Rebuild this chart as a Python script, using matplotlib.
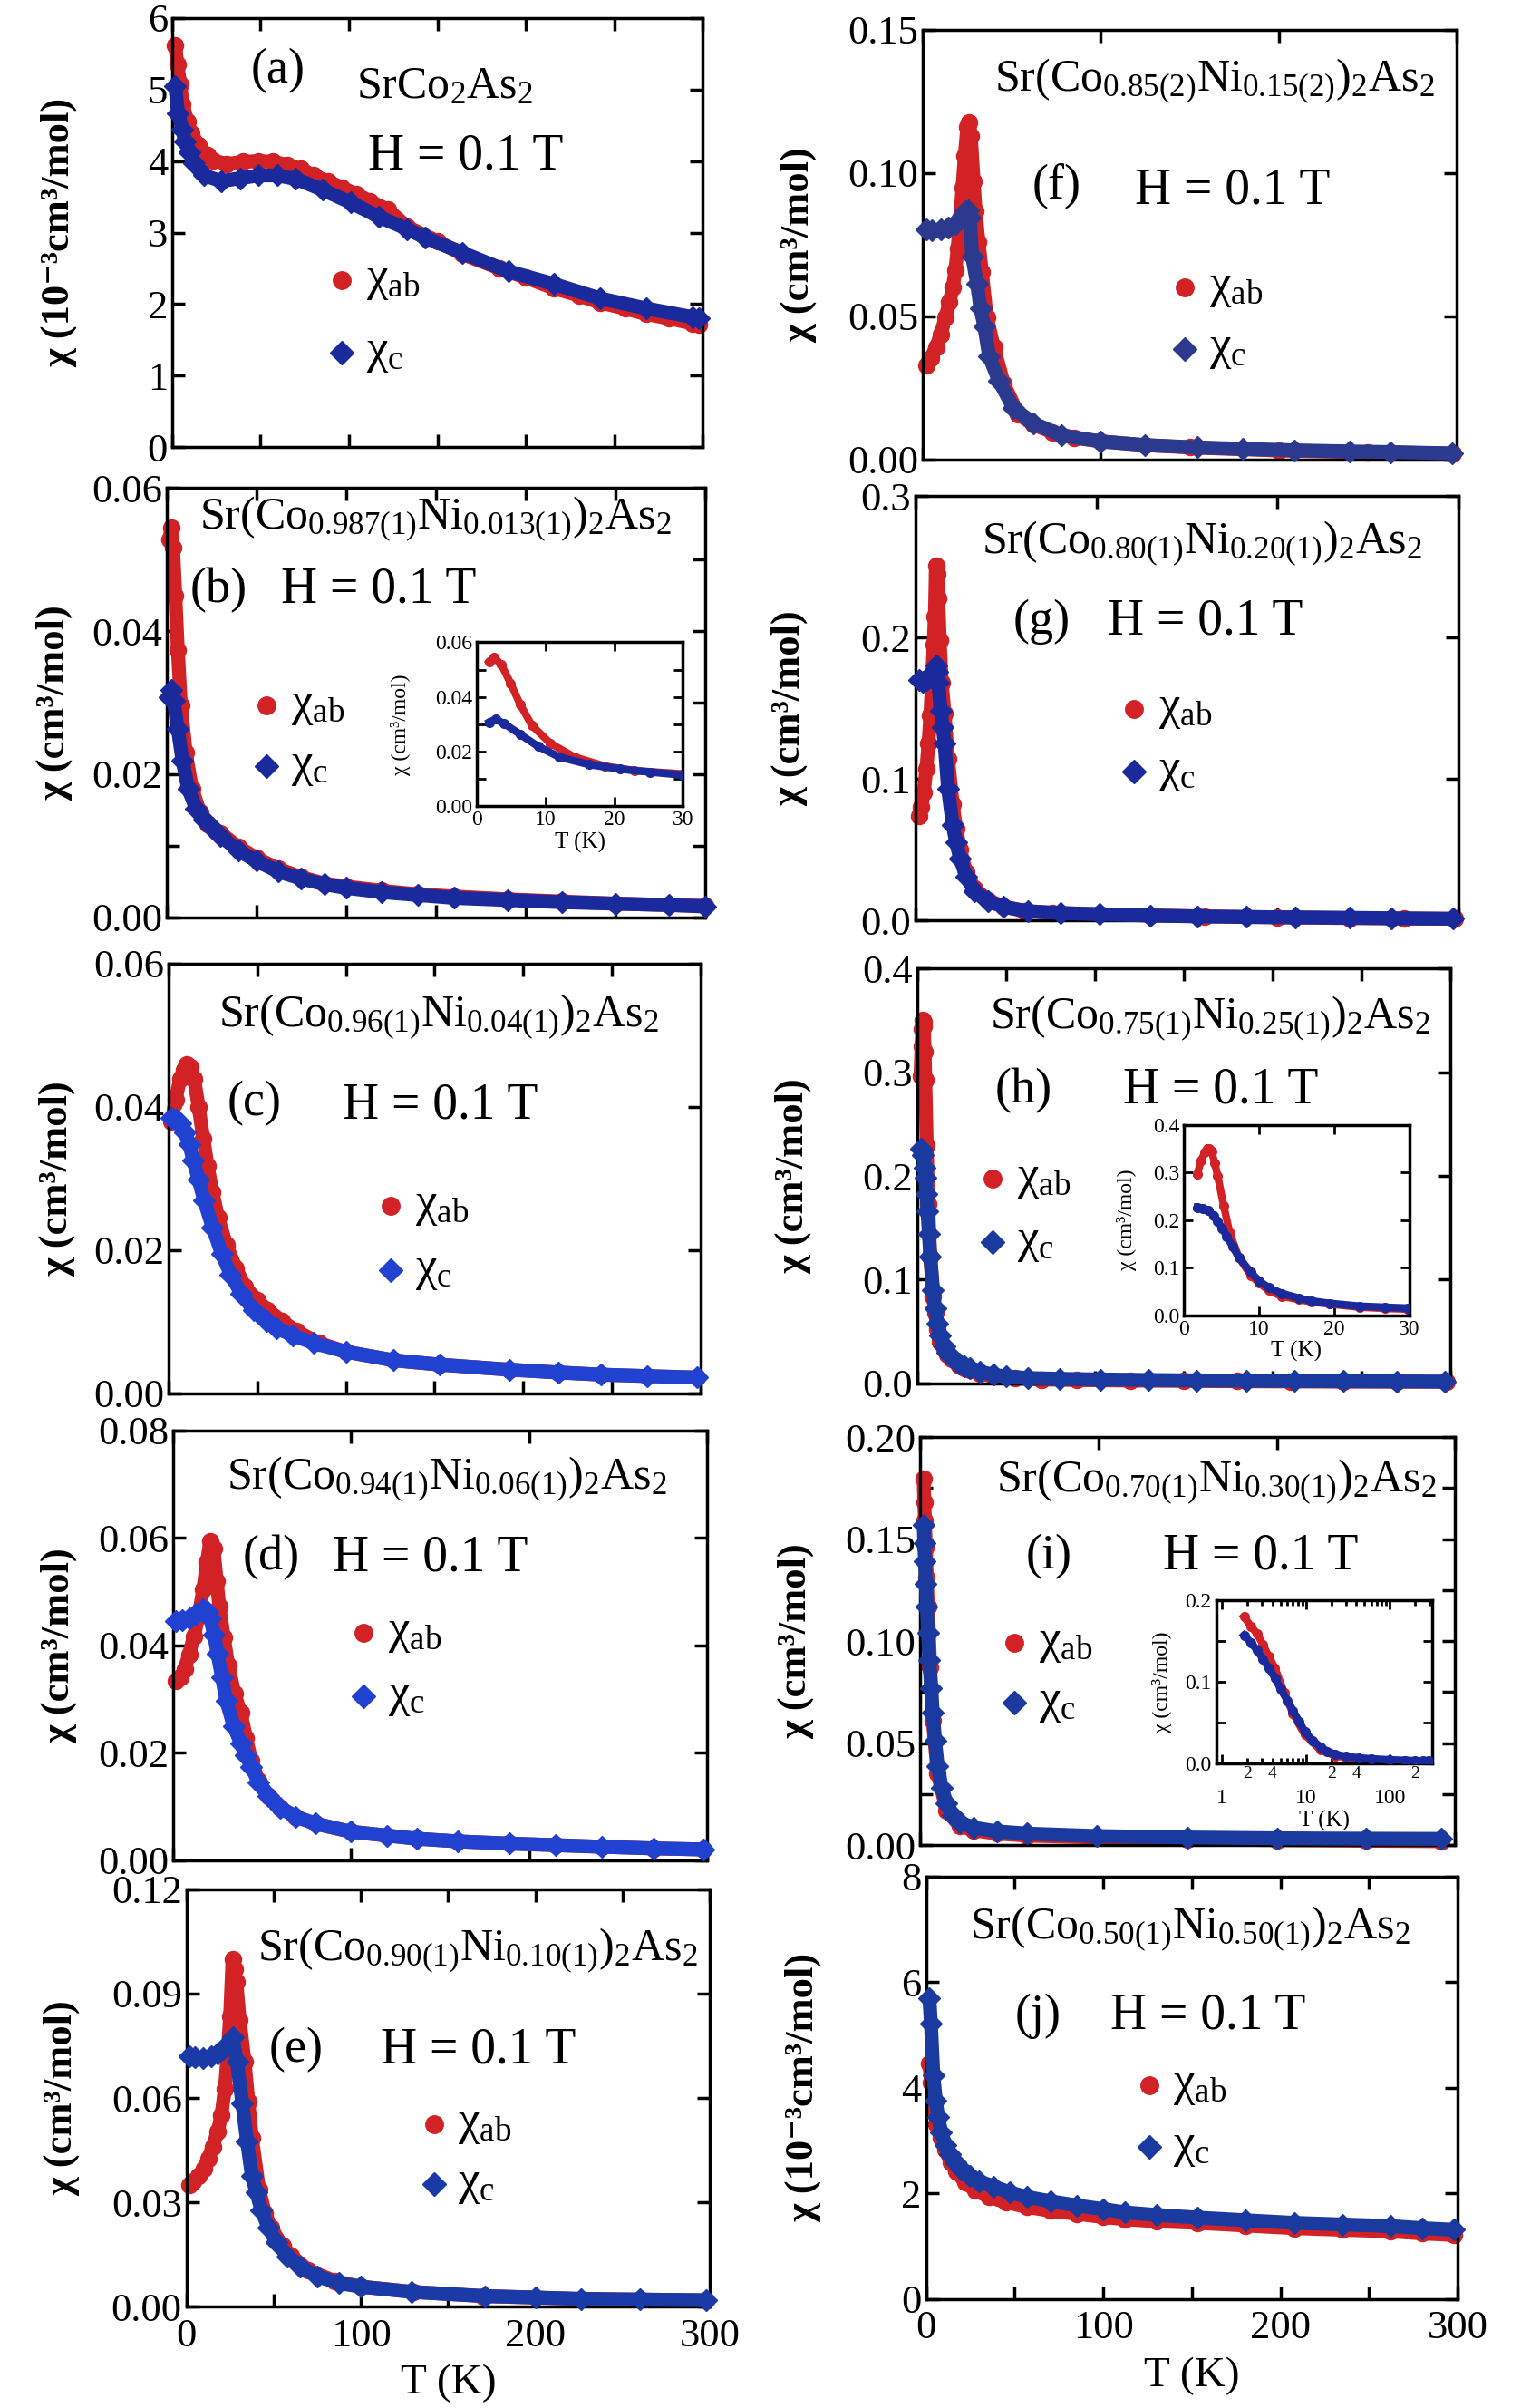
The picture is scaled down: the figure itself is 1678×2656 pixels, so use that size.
import numpy as np
import matplotlib
matplotlib.use('Agg')
import matplotlib.pyplot as plt
from matplotlib.ticker import MultipleLocator, FormatStrFormatter, FuncFormatter, FixedLocator

plt.rcParams['font.family'] = ['Liberation Serif', 'DejaVu Serif']
plt.rcParams['mathtext.fontset'] = 'custom'
plt.rcParams['mathtext.rm'] = 'Liberation Serif'
plt.rcParams['mathtext.it'] = 'Liberation Serif:italic'
plt.rcParams['mathtext.bf'] = 'Liberation Serif:bold'

RED = '#d32226'
BLUE = '#1a2a9c'
BLUE2 = '#2142d0'

# ---------------------------------------------------------------
# data  (T in K, chi in cm^3/mol; (a),(j) in 1e-3 cm^3/mol)
# (a) SrCo2As2
T_a_ab = [1.8, 3, 4.7, 6, 8.6, 11, 15, 20, 23, 31, 40, 49, 57, 65, 73, 80, 88, 96, 104, 112,
          122, 133, 150, 164, 185, 200, 216, 230, 242, 256, 268, 281, 294, 298]
chi_a_ab = [5.62, 5.35, 5.07, 4.8, 4.56, 4.39, 4.22, 4.08, 4.01, 3.96, 3.99, 4.0, 3.99, 3.95, 3.89, 3.80,
            3.72, 3.63, 3.54, 3.44, 3.32, 3.08, 2.88, 2.70, 2.50, 2.37, 2.22, 2.12, 2.02, 1.94, 1.86,
            1.80, 1.73, 1.72]
T_a_c = [1.8, 3.4, 6, 7.3, 10, 12.5, 17.8, 28, 38.6, 49, 59.5, 70, 85, 101, 117, 133, 143, 164, 190,
         216, 242, 268, 294, 298]
chi_a_c = [5.05, 4.67, 4.44, 4.27, 4.12, 3.97, 3.80, 3.72, 3.76, 3.80, 3.80, 3.75, 3.60, 3.42, 3.22,
           3.05, 2.93, 2.72, 2.46, 2.28, 2.08, 1.94, 1.82, 1.80]

# (b) x = 0.013
T_b_ab = [1.8, 2.5, 3.6, 4.9, 6.3, 8, 10.7, 14.2, 18.6, 23, 30, 40, 50, 62, 75, 88, 100, 120, 140,
          160, 190, 220, 250, 280, 300]
chi_b_ab = [0.0528, 0.0545, 0.0517, 0.045, 0.0373, 0.0296, 0.023, 0.018, 0.0147, 0.013, 0.0118,
            0.0098, 0.0083, 0.0068, 0.0056, 0.0047, 0.0043, 0.0037, 0.0032, 0.0029, 0.0025, 0.0022,
            0.0019, 0.0017, 0.0016]
T_b_c = [1.8, 2.7, 4, 6.3, 8.9, 12, 16.4, 20.8, 25.2, 30, 40, 50, 62, 75, 88, 100, 120, 140, 160,
         190, 220, 250, 280, 300]
chi_b_c = [0.0307, 0.0318, 0.0302, 0.0263, 0.0219, 0.018, 0.0152, 0.0136, 0.0125, 0.0114, 0.0093,
           0.0079, 0.0064, 0.0054, 0.0046, 0.0041, 0.0035, 0.0031, 0.0027, 0.0024, 0.0021, 0.0019,
           0.0017, 0.0015]

# (c) x = 0.04
T_c_ab = [1.8, 4, 6.5, 8.5, 10.4, 12.5, 14.4, 17, 19.6, 22, 24.8, 28, 32.6, 38, 43, 50, 56, 64, 72,
          85, 100, 127, 153, 192, 220, 244, 270, 298]
chi_c_ab = [0.038, 0.041, 0.0439, 0.0452, 0.0459, 0.0455, 0.0439, 0.040, 0.0356, 0.0318, 0.0281,
            0.0245, 0.0207, 0.0175, 0.0149, 0.013, 0.0116, 0.0101, 0.0087, 0.0070, 0.0058, 0.0046,
            0.0040, 0.0033, 0.0029, 0.0026, 0.0024, 0.0022]
T_c_c = [1.8, 4, 6.5, 9, 11.7, 14, 17, 20, 24.8, 30, 35, 41, 48, 55, 61, 70, 82, 100, 127, 153, 192,
         220, 244, 270, 298]
chi_c_c = [0.0385, 0.0382, 0.0377, 0.0365, 0.0348, 0.0325, 0.0298, 0.027, 0.0232, 0.0195, 0.0166,
           0.0139, 0.0116, 0.0101, 0.0091, 0.0081, 0.007, 0.0058, 0.0046, 0.004, 0.0033, 0.0029,
           0.0026, 0.0024, 0.0022]

# (d) x = 0.06
T_d_ab = [1.8, 4, 6.5, 9, 11.7, 14.5, 17, 19, 20.9, 22.7, 24.5, 26, 28.5, 31, 34.5, 38, 41, 44, 48,
          53.5, 60, 69, 80, 100, 120, 137, 160, 189, 215, 241, 270, 298]
chi_d_ab = [0.0334, 0.0340, 0.0356, 0.0383, 0.0417, 0.0458, 0.0505, 0.0555, 0.0594, 0.0580, 0.052,
            0.0472, 0.0415, 0.0362, 0.031, 0.0274, 0.0228, 0.0185, 0.0148, 0.0119, 0.0098, 0.0081,
            0.0068, 0.0053, 0.0046, 0.0040, 0.0035, 0.0031, 0.0028, 0.0025, 0.0022, 0.0020]
T_d_c = [1.8, 5, 9, 13, 17, 19.5, 20.9, 23, 25, 27.5, 30, 34, 38, 41, 44, 48, 53.5, 60, 69, 80, 100,
         120, 137, 160, 189, 215, 241, 270, 298]
chi_d_c = [0.0445, 0.0447, 0.045, 0.0458, 0.0467, 0.0462, 0.045, 0.042, 0.0384, 0.034, 0.0296,
           0.025, 0.0218, 0.0195, 0.0174, 0.0145, 0.0119, 0.0098, 0.0081, 0.0068, 0.0053, 0.0046,
           0.0040, 0.0035, 0.0031, 0.0028, 0.0025, 0.0022, 0.0020]

# (e) x = 0.10
T_e_ab = [1.8, 4, 6.9, 10, 12.5, 15, 18, 20, 22, 23.5, 25, 26.4, 27.5, 28.6, 30.5, 33.3, 35.5, 37.5,
          41.7, 45, 48.6, 55, 60, 70, 85, 100, 130, 170, 226, 260, 298]
chi_e_ab = [0.0351, 0.036, 0.0376, 0.0398, 0.0426, 0.046, 0.0505, 0.055, 0.0625, 0.072, 0.0834,
            0.0998, 0.097, 0.0933, 0.0824, 0.0704, 0.059, 0.0486, 0.0336, 0.027, 0.0227, 0.0175,
            0.0147, 0.0105, 0.0074, 0.0058, 0.0043, 0.0031, 0.0023, 0.0021, 0.0019]
T_e_c = [1.8, 5, 9.7, 14, 18, 21, 23.6, 26.4, 29, 32, 34.7, 37.5, 40, 43, 47, 51.4, 58, 65, 75, 87.5,
         100, 129, 171, 200, 226, 260, 298]
chi_e_c = [0.0719, 0.0716, 0.0714, 0.072, 0.0729, 0.074, 0.0754, 0.0774, 0.0704, 0.0585, 0.0476,
           0.0376, 0.033, 0.0277, 0.0228, 0.0187, 0.0145, 0.0117, 0.0088, 0.0068, 0.0058, 0.0043,
           0.0031, 0.0027, 0.0023, 0.0021, 0.0019]

# (f) x = 0.15
T_f_ab = [1.9, 4.5, 7.4, 10, 12.8, 15, 16.9, 18.3, 19.6, 21, 22.3, 23.6, 25, 26, 27, 28.6, 29.7, 31.3,
          33.2, 36, 40, 45.5, 53.7, 62, 72.8, 85, 100, 125, 150, 200, 250, 298]
chi_f_ab = [0.0327, 0.0355, 0.039, 0.0437, 0.0496, 0.055, 0.0601, 0.066, 0.0738, 0.084, 0.095,
            0.106, 0.116, 0.1175, 0.1129, 0.097, 0.0865, 0.076, 0.0654, 0.0496, 0.039, 0.0264,
            0.0158, 0.0122, 0.0095, 0.0076, 0.0063, 0.005, 0.0042, 0.0031, 0.0025, 0.0021]
T_f_c = [1.9, 5, 10, 14, 18.3, 21, 23.7, 25.5, 26.4, 27.8, 30.5, 32.4, 34.6, 37.3, 42.8, 51, 62, 78,
         100, 125, 154.5, 180, 209, 240, 263, 297.5]
chi_f_c = [0.0802, 0.0801, 0.0802, 0.081, 0.0823, 0.0838, 0.0865, 0.087, 0.0844, 0.0707, 0.0612,
           0.0527, 0.0464, 0.0359, 0.0274, 0.0179, 0.0127, 0.0084, 0.0063, 0.005, 0.0042, 0.0037,
           0.0032, 0.0028, 0.0026, 0.0021]

# (g) x = 0.20
T_g_ab = [1.9, 3.2, 4.6, 6, 7.2, 8.2, 9.1, 10, 10.7, 11.3, 12, 12.6, 13.4, 14.5, 16.1, 18, 20.6,
          22.5, 24.7, 28, 32.7, 40, 48.8, 60, 75.6, 102, 130, 160, 200, 240, 270, 298]
chi_g_ab = [0.0737, 0.08, 0.0908, 0.107, 0.125, 0.145, 0.168, 0.195, 0.215, 0.251, 0.245, 0.2276,
            0.198, 0.168, 0.146, 0.114, 0.082, 0.065, 0.050, 0.034, 0.0224, 0.0145, 0.0096, 0.0068,
            0.0053, 0.0043, 0.0035, 0.0028, 0.0021, 0.0016, 0.0013, 0.0011]
T_g_c = [1.8, 4, 5.9, 8.6, 10, 11.3, 12, 12.6, 13.9, 15, 16.1, 18, 20.6, 22.5, 24.7, 28, 32.7, 40,
         48.8, 62, 80, 102, 130, 156, 183, 210, 240, 263, 297]
chi_g_c = [0.170, 0.169, 0.170, 0.172, 0.176, 0.1806, 0.176, 0.168, 0.1485, 0.137, 0.125, 0.093,
           0.0673, 0.055, 0.0438, 0.031, 0.0203, 0.0135, 0.0096, 0.0064, 0.0052, 0.0043, 0.0034,
           0.0028, 0.0024, 0.0021, 0.0018, 0.0015, 0.0011]

# (h) x = 0.25
T_h_ab = [1.8, 2.3, 2.8, 3.1, 3.4, 3.7, 4.1, 4.5, 5.3, 6.1, 7.3, 8.9, 10, 11.3, 13, 15.3, 17, 19.4,
          23.4, 26.7, 29.8, 35, 43, 55, 70, 90, 120, 150, 180, 210, 240, 270, 298]
chi_h_ab = [0.2965, 0.325, 0.342, 0.350, 0.349, 0.344, 0.32, 0.293, 0.23, 0.173, 0.122, 0.084, 0.068,
            0.052, 0.040, 0.033, 0.028, 0.0235, 0.017, 0.0145, 0.0127, 0.0095, 0.0068, 0.0048,
            0.0038, 0.0032, 0.0027, 0.0024, 0.0021, 0.0019, 0.0017, 0.0016, 0.0015]
T_h_c = [1.8, 2.5, 3.3, 4, 4.5, 5.1, 5.7, 6.5, 7.3, 8.9, 10, 11.3, 13, 15.3, 17, 19.4, 23.4, 26.7,
         29.8, 35, 43, 50, 62, 80, 103, 130, 157, 185, 212, 240, 270, 297]
chi_h_c = [0.2267, 0.225, 0.22, 0.208, 0.198, 0.183, 0.166, 0.144, 0.122, 0.090, 0.072, 0.058, 0.046,
           0.036, 0.030, 0.025, 0.019, 0.0168, 0.015, 0.0115, 0.0082, 0.0068, 0.0052, 0.0044,
           0.0038, 0.0033, 0.0029, 0.0026, 0.0023, 0.0021, 0.0019, 0.0017]

# (i) x = 0.30
T_i_ab = [1.83, 2.2, 2.6, 3.06, 3.6, 4.26, 5.5, 7, 9.7, 14.8, 22.3, 30, 43, 60, 99, 150, 200, 250, 292]
chi_i_ab = [0.1796, 0.168, 0.159, 0.146, 0.131, 0.117, 0.087, 0.061, 0.035, 0.0167, 0.0093, 0.0072,
            0.0056, 0.0046, 0.0037, 0.0029, 0.0024, 0.0021, 0.0019]
T_i_c = [1.83, 2.2, 2.6, 3.06, 3.6, 4.3, 5.0, 6, 7.0, 8.3, 9.7, 12, 14.8, 18, 22.3, 30, 43, 60, 99,
         150, 200, 250, 292]
chi_i_c = [0.157, 0.148, 0.139, 0.128, 0.117, 0.104, 0.0907, 0.077, 0.0648, 0.051, 0.0389, 0.028,
           0.0204, 0.0148, 0.0111, 0.0085, 0.0067, 0.0056, 0.0044, 0.0037, 0.0033, 0.0031, 0.003]

# (j) x = 0.50
T_j_ab = [1.8, 2.7, 4.1, 6, 8.2, 10.9, 13.7, 17, 22, 28, 35.5, 45, 57, 70, 85, 100, 112, 130, 153,
          180, 208, 235, 262, 280, 298]
chi_j_ab = [4.45, 4.1, 3.7, 3.3, 3.05, 2.82, 2.59, 2.42, 2.2, 2.05, 1.93, 1.83, 1.74, 1.67, 1.61,
            1.55, 1.51, 1.47, 1.44, 1.39, 1.34, 1.31, 1.28, 1.24, 1.21]
T_j_c = [1.8, 2.7, 4.1, 5.5, 6.8, 8.5, 10.9, 13.5, 16.4, 20, 24.6, 30, 38, 47, 57, 70, 85, 100, 112,
         130, 153, 180, 208, 235, 262, 280, 298]
chi_j_c = [5.7, 5.21, 4.23, 3.75, 3.44, 3.15, 2.92, 2.74, 2.59, 2.45, 2.33, 2.23, 2.13, 2.02, 1.93,
           1.85, 1.77, 1.70, 1.64, 1.59, 1.54, 1.49, 1.44, 1.41, 1.38, 1.34, 1.31]

formulas = {
    'a': r'$\mathrm{SrCo_2As_2}$',
    'b': r'$\mathrm{Sr(Co_{0.987(1)}Ni_{0.013(1)})_2As_2}$',
    'c': r'$\mathrm{Sr(Co_{0.96(1)}Ni_{0.04(1)})_2As_2}$',
    'd': r'$\mathrm{Sr(Co_{0.94(1)}Ni_{0.06(1)})_2As_2}$',
    'e': r'$\mathrm{Sr(Co_{0.90(1)}Ni_{0.10(1)})_2As_2}$',
    'f': r'$\mathrm{Sr(Co_{0.85(2)}Ni_{0.15(2)})_2As_2}$',
    'g': r'$\mathrm{Sr(Co_{0.80(1)}Ni_{0.20(1)})_2As_2}$',
    'h': r'$\mathrm{Sr(Co_{0.75(1)}Ni_{0.25(1)})_2As_2}$',
    'i': r'$\mathrm{Sr(Co_{0.70(1)}Ni_{0.30(1)})_2As_2}$',
    'j': r'$\mathrm{Sr(Co_{0.50(1)}Ni_{0.50(1)})_2As_2}$',
}
YLAB = 'χ (cm³/mol)'
YLAB3 = 'χ (10⁻³cm³/mol)'

fig = plt.figure(figsize=(16.78, 26.56), dpi=100)


def style(ax, lw=2.5, tl=10, tw=2.5, ls=32):
    for s in ax.spines.values():
        s.set_linewidth(lw)
    ax.tick_params(which='both', direction='in', top=True, right=True,
                   length=tl, width=tw, labelsize=ls)


def panel(key, rect, T1, y1, T2, y2, ylim, ystep, yfmt, xstep, pos, yminor=None,
          ylabel=YLAB, blue=BLUE, xlab=False, ylx=-0.18):
    ax = fig.add_axes(rect)
    ax.plot(T1, y1, '-', color=RED, lw=11, marker='o', ms=13, mec=RED,
            solid_joinstyle='round', solid_capstyle='round', clip_on=False, zorder=2)
    ax.plot(T2, y2, '-', color=blue, lw=11, marker='D', ms=12, mec=blue,
            solid_joinstyle='round', solid_capstyle='round', clip_on=False, zorder=3)
    ax.set_xlim(0, 300)
    ax.set_ylim(*ylim)
    ax.yaxis.set_major_locator(MultipleLocator(ystep))
    if yminor:
        ax.yaxis.set_minor_locator(MultipleLocator(yminor))
    ax.yaxis.set_major_formatter(FormatStrFormatter(yfmt))
    style(ax)
    if xlab:
        ax.xaxis.set_major_locator(MultipleLocator(100))
        ax.xaxis.set_minor_locator(MultipleLocator(50))
        ax.tick_params(axis='x', pad=9)
        ax.set_xlabel('T (K)', fontsize=34, labelpad=8)
    else:
        ax.xaxis.set_major_locator(MultipleLocator(xstep))
        ax.tick_params(labelbottom=False)
    ax.set_ylabel(ylabel, fontsize=32, fontweight='bold')
    ax.yaxis.set_label_coords(ylx, 0.5)

    fpos, tpos, hpos, leg = pos
    ax.text(*fpos, formulas[key], transform=ax.transAxes, ha='center', va='center', fontsize=36)
    ax.text(*tpos, '(%s)' % key, transform=ax.transAxes, ha='center', va='center', fontsize=39)
    ax.text(*hpos, 'H = 0.1 T', transform=ax.transAxes, ha='center', va='center', fontsize=40)
    mx, my1, my2 = leg
    ax.plot([mx], [my1], 'o', color=RED, ms=14, transform=ax.transAxes, clip_on=False)
    ax.plot([mx], [my2], 'D', color=blue, ms=13, transform=ax.transAxes, clip_on=False)
    ax.text(mx + 0.045, my1, 'χ$_{\\mathrm{ab}}$', transform=ax.transAxes, ha='left', va='center', fontsize=38)
    ax.text(mx + 0.045, my2, 'χ$_{\\mathrm{c}}$', transform=ax.transAxes, ha='left', va='center', fontsize=38)
    return ax


def inset(rect, T1, y1, T2, y2, ylim, ystep, yfmt, ylx, yminor=None, log=False):
    ax = fig.add_axes(rect)
    ax.plot(T1, y1, '-', color=RED, lw=6, marker='o', ms=7, mec=RED, zorder=2)
    ax.plot(T2, y2, '-', color=BLUE, lw=6, marker='o', ms=7, mec=BLUE, zorder=3)
    ax.set_ylim(*ylim)
    ax.yaxis.set_major_locator(MultipleLocator(ystep))
    if yminor:
        ax.yaxis.set_minor_locator(MultipleLocator(yminor))
    ax.yaxis.set_major_formatter(FormatStrFormatter(yfmt))
    style(ax, lw=2.5, tl=7, tw=2, ls=17)
    if log:
        ax.set_xscale('log')
        ax.set_xlim(0.85, 320)
        ax.xaxis.set_major_locator(FixedLocator([1, 10, 100]))
        ax.xaxis.set_major_formatter(FuncFormatter(lambda v, p: '%d' % round(v)))
        minors = [m * 10 ** e for e in range(0, 3) for m in range(2, 10) if m * 10 ** e < 320]
        ax.xaxis.set_minor_locator(FixedLocator(minors))

        def mfmt(v, p):
            m = int(round(v / 10 ** np.floor(np.log10(v))))
            return str(m) if m in (2, 4) else ''
        ax.xaxis.set_minor_formatter(FuncFormatter(mfmt))
        ax.tick_params(axis='x', which='major', pad=20, labelsize=17)
        ax.tick_params(axis='x', which='minor', pad=2, labelsize=14, length=4)
    else:
        ax.set_xlim(0, 30)
        ax.xaxis.set_major_locator(MultipleLocator(10))
    ax.set_xlabel('T (K)', fontsize=18, labelpad=2)
    ax.set_ylabel(YLAB, fontsize=17)
    ax.yaxis.set_label_coords(ylx, 0.5)
    return ax


# left column
panel('a', [0.1131, 0.8143, 0.3490, 0.1782], T_a_ab, chi_a_ab, T_a_c, chi_a_c,
      (0, 6), 1, '%d', 50,
      ((0.513, 0.84), (0.20, 0.877), (0.553, 0.678), (0.32, 0.39, 0.22)),
      ylabel=YLAB3, ylx=-0.179)
panel('b', [0.1095, 0.6191, 0.3542, 0.1782], T_b_ab, chi_b_ab, T_b_c, chi_b_c,
      (0, 0.06), 0.02, '%.2f', 50,
      ((0.499, 0.928), (0.097, 0.763), (0.393, 0.763), (0.186, 0.493, 0.353)),
      yminor=0.01, ylx=-0.175)
panel('c', [0.1108, 0.4214, 0.3498, 0.1784], T_c_ab, chi_c_ab, T_c_c, chi_c_c,
      (0, 0.06), 0.02, '%.2f', 50,
      ((0.507, 0.875), (0.161, 0.674), (0.51, 0.67), (0.418, 0.437, 0.287)),
      blue=BLUE2, ylx=-0.175)
panel('d', [0.1138, 0.2275, 0.3510, 0.1784], T_d_ab, chi_d_ab, T_d_c, chi_d_c,
      (0, 0.08), 0.02, '%.2f', 100,
      ((0.513, 0.886), (0.184, 0.704), (0.481, 0.704), (0.357, 0.529, 0.382)),
      blue=BLUE2, ylx=-0.18)
panel('e', [0.1226, 0.0420, 0.3440, 0.1735], T_e_ab, chi_e_ab, T_e_c, chi_e_c,
      (0, 0.12), 0.03, '%.2f', 50,
      ((0.556, 0.852), (0.21, 0.615), (0.558, 0.615), (0.474, 0.437, 0.293)),
      blue='#1a3aa8', xlab=True, ylx=-0.204)

# right column
panel('f', [0.6067, 0.8092, 0.3510, 0.1785], T_f_ab, chi_f_ab, T_f_c, chi_f_c,
      (0, 0.15), 0.05, '%.2f', 100,
      ((0.546, 0.879), (0.251, 0.636), (0.58, 0.625), (0.491, 0.40, 0.257)),
      blue='#2b3a8f', ylx=-0.198)
panel('g', [0.6019, 0.6178, 0.3567, 0.1761], T_g_ab, chi_g_ab, T_g_c, chi_g_c,
      (0, 0.3), 0.1, '%.1f', 100,
      ((0.528, 0.888), (0.233, 0.704), (0.534, 0.704), (0.403, 0.498, 0.35)),
      ylx=-0.198)
panel('h', [0.6031, 0.4255, 0.3504, 0.1723], T_h_ab, chi_h_ab, T_h_c, chi_h_c,
      (0, 0.4), 0.1, '%.1f', 50,
      ((0.549, 0.879), (0.20, 0.706), (0.569, 0.706), (0.142, 0.494, 0.341)),
      blue='#1a3aa0', ylx=-0.198)
panel('i', [0.6051, 0.2338, 0.3516, 0.1694], T_i_ab, chi_i_ab, T_i_c, chi_i_c,
      (0, 0.2), 0.05, '%.2f', 100,
      ((0.554, 0.889), (0.241, 0.707), (0.636, 0.707), (0.176, 0.496, 0.348)),
      yminor=0.025, blue='#1a3aa0', ylx=-0.198)
panel('j', [0.6089, 0.0453, 0.3494, 0.1755], T_j_ab, chi_j_ab, T_j_c, chi_j_c,
      (0, 8), 2, '%d', 50,
      ((0.497, 0.876), (0.211, 0.669), (0.531, 0.669), (0.42, 0.505, 0.36)),
      ylabel=YLAB3, blue='#1a3aa0', xlab=True, ylx=-0.198)

# insets
inset([0.3135, 0.6652, 0.1355, 0.0681], T_b_ab, chi_b_ab, T_b_c, chi_b_c,
      (0, 0.06), 0.02, '%.2f', -0.32, yminor=0.01)
inset([0.7783, 0.4538, 0.1484, 0.0791], T_h_ab, chi_h_ab, T_h_c, chi_h_c,
      (0, 0.4), 0.1, '%.1f', -0.21)
inset([0.7996, 0.2677, 0.1420, 0.0678], T_i_ab, chi_i_ab, T_i_c, chi_i_c,
      (0, 0.2), 0.1, '%.1f', -0.204, yminor=0.05, log=True)

plt.savefig('out.png', dpi=100)
plt.close(fig)
